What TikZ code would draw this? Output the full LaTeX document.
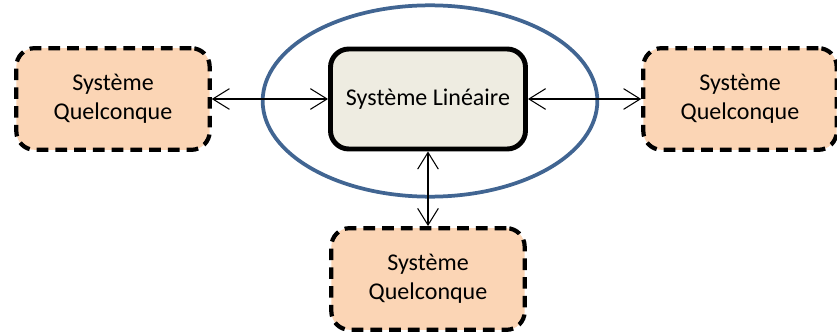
\documentclass[tikz,border=0pt]{standalone}
\usepackage{fontspec}
\setmainfont{Carlito}
\usetikzlibrary{arrows.meta}
\definecolor{quelfill}{RGB}{251,213,181}
\definecolor{linfill}{RGB}{238,236,225}
\definecolor{ellblue}{RGB}{65,101,146}
\tikzset{
  sysbox/.style={rounded corners=0.55cm, align=center, inner sep=0pt,
    font=\fontsize{20.5}{25}\selectfont},
  quelbox/.style={sysbox, draw, fill=quelfill, line width=3.6pt,
    dash pattern=on 10pt off 6pt, minimum width=5.8cm, minimum height=3.05cm},
  linbox/.style={sysbox, draw, fill=linfill, line width=4.2pt,
    minimum width=5.85cm, minimum height=3.0cm},
  link/.style={{Straight Barb[length=0.5cm,width=0.62cm]}-{Straight Barb[length=0.5cm,width=0.62cm]},
    line width=0.9pt}
}
\begin{document}
\begin{tikzpicture}
\useasboundingbox (0,0) rectangle (25.11,-9.99);
\draw[ellblue, line width=3.2pt] (12.9,-3.03) ellipse (5.02cm and 2.87cm);
\node[linbox]  at (12.84, -2.97) (lin) {Système Linéaire};
\node[quelbox] at (3.39, -2.97)  (lq)  {Système\\Quelconque};
\node[quelbox] at (22.2, -2.97)  (rq)  {Système\\Quelconque};
\node[quelbox] at (12.84, -8.37) (bq)  {Système\\Quelconque};
\draw[link] (lq.east)  -- (lin.west);
\draw[link] (lin.east) -- (rq.west);
\draw[link] (lin.south) -- (bq.north);
\end{tikzpicture}
\end{document}
